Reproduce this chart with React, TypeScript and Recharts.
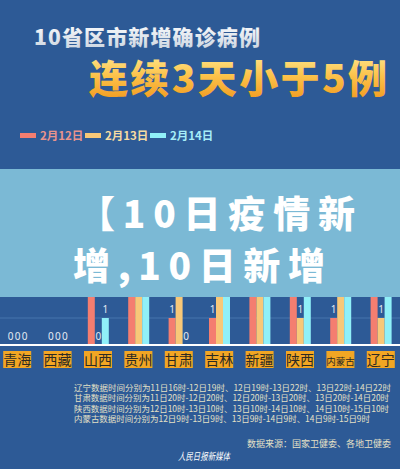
import { BarChart, Bar, XAxis, YAxis, CartesianGrid, LabelList } from "recharts";

const provinces = ["青海", "西藏", "山西", "贵州", "甘肃", "吉林", "新疆", "陕西", "内蒙古", "辽宁"];
const feb12 = [0, 0, 2, 2, 1, 1, 3, 3, 1, 2];
const feb13 = [0, 0, 0, 2, 2, 2, 2, 1, 3, 1];
const feb14 = [0, 0, 1, 3, 0, 3, 2, 2, 2, 2];

const seriesNames = ["2月12日", "2月13日", "2月14日"];
const seriesColors = ["#f47e70", "#f8c878", "#90f0f8"];
const legendTextColors = ["#e9948c", "#f6dca2", "#a6eef8"];

const notes = [
  "辽宁数据时间分别为11日16时-12日19时、12日19时-13日22时、13日22时-14日22时",
  "甘肃数据时间分别为11日20时-12日20时、12日20时-13日20时、13日20时-14日20时",
  "陕西数据时间分别为12日10时-13日10时、13日10时-14日10时、14日10时-15日10时",
  "内蒙古数据时间分别为12日9时-13日9时、13日9时-14日9时、14日9时-15日9时",
];
const noteWidths = [317, 315, 315, 296];

const data = provinces.map((name, i) => ({
  name,
  d12: feb12[i],
  d13: feb13[i],
  d14: feb14[i],
}));

const keys = ["d12", "d13", "d14"];
const font = "'Noto Sans CJK SC', 'Noto Sans', sans-serif";
const bannerBottom = 297;

const ProvinceTick = ({ x, y, payload }: any) => {
  const small = payload.value.length > 2;
  return (
    <g>
      <rect x={x - 14} y={y - 2} width={28} height={17} fill="#f2a624" />
      <text
        x={x}
        y={y + 12}
        textAnchor="middle"
        fontSize={small ? 9.5 : 14}
        fill="#2c2a24"
        fontFamily={font}
      >
        {payload.value}
      </text>
    </g>
  );
};

// labels sitting under the banner are hidden in the original, so skip them
const ValueLabel = ({ x, y, width, value }: any) => {
  if (Number(y) - 5 < bannerBottom) return null;
  return (
    <text
      x={Number(x) + Number(width) / 2}
      y={Number(y) - 5}
      textAnchor="middle"
      fontSize={10}
      fill="#e4eaf2"
      fontFamily="'Noto Sans', sans-serif"
    >
      {value}
    </text>
  );
};

export default function App() {
  return (
    <div
      style={{
        position: "absolute",
        left: 0,
        top: 0,
        width: 400,
        height: 469,
        background: "#2d5a96",
        overflow: "hidden",
        fontFamily: font,
      }}
    >
      <div style={{ position: "absolute", left: 0, top: 0 }}>
        <BarChart
          width={400}
          height={469}
          data={data}
          margin={{ top: 183, right: -1, bottom: 94, left: -3 }}
          barSize={7}
          barGap={0}
        >
          <CartesianGrid vertical={false} stroke="#4674ad" />
          <YAxis hide domain={[0, 6]} ticks={[0, 1, 2, 3, 4, 5, 6]} />
          <XAxis
            dataKey="name"
            interval={0}
            height={30}
            tickLine={false}
            axisLine={{ stroke: "#ffffff", strokeWidth: 2 }}
            tick={<ProvinceTick />}
          />
          {keys.map((k, i) => (
            <Bar
              key={k}
              dataKey={k}
              fill={seriesColors[i]}
              isAnimationActive={false}
              minPointSize={(v: number) => (v === 0 ? 0.01 : 0)}
            >
              <LabelList dataKey={k} content={<ValueLabel />} />
            </Bar>
          ))}
        </BarChart>
      </div>

      <svg
        width={400}
        height={469}
        style={{ position: "absolute", left: 0, top: 0, pointerEvents: "none" }}
      >
        <defs>
          <linearGradient id="gold" x1="0" y1="0" x2="0" y2="1">
            <stop offset="0%" stopColor="#fff1a0" />
            <stop offset="50%" stopColor="#fcc24a" />
            <stop offset="100%" stopColor="#f0951a" />
          </linearGradient>
          <linearGradient id="silver" x1="0" y1="0" x2="0" y2="1">
            <stop offset="0%" stopColor="#ffffff" />
            <stop offset="100%" stopColor="#c9d3df" />
          </linearGradient>
        </defs>

        <text
          x={34}
          y={45}
          fontSize={21}
          fontWeight={900}
          fill="url(#silver)"
          fontFamily={font}
          textLength={226}
          lengthAdjust="spacing"
        >
          10省区市新增确诊病例
        </text>
        <text
          x={89}
          y={93}
          fontSize={39}
          fontWeight={900}
          fill="url(#gold)"
          fontFamily={font}
          textLength={298}
          lengthAdjust="spacing"
        >
          连续3天小于5例
        </text>

        {seriesNames.map((s, i) => (
          <g key={s}>
            <rect x={20 + i * 65} y={133} width={16} height={5} fill={seriesColors[i]} />
            <text
              x={40 + i * 65}
              y={139.5}
              fontSize={11.5}
              fontWeight={700}
              fill={legendTextColors[i]}
              fontFamily={font}
            >
              {s}
            </text>
          </g>
        ))}

        <rect x={0} y={169} width={400} height={bannerBottom - 169} fill="#7bb9d5" />
        <text
          x={78}
          y={228}
          fontSize={37}
          fontWeight={900}
          fill="#ffffff"
          fontFamily={font}
          textLength={277}
          lengthAdjust="spacing"
        >
          【10日疫情新
        </text>
        <text
          x={73}
          y={280}
          fontSize={37}
          fontWeight={900}
          fill="#ffffff"
          fontFamily={font}
          textLength={252}
          lengthAdjust="spacing"
        >
          增,10日新增
        </text>

        {notes.map((n, i) => (
          <text
            key={i}
            x={74}
            y={391 + i * 10.3}
            fontSize={8.5}
            fill="#e4e0c6"
            fontFamily={font}
            textLength={noteWidths[i]}
            lengthAdjust="spacingAndGlyphs"
          >
            {n}
          </text>
        ))}
        <text
          x={391}
          y={447}
          textAnchor="end"
          fontSize={9}
          fill="#e4e0c6"
          fontFamily={font}
        >
          数据来源：国家卫健委、各地卫健委
        </text>
        <text
          x={178}
          y={460}
          fontSize={10}
          fontStyle="italic"
          fill="#ffffff"
          fontFamily={font}
          textLength={52}
          lengthAdjust="spacingAndGlyphs"
        >
          人民日报新媒体
        </text>
      </svg>
    </div>
  );
}
